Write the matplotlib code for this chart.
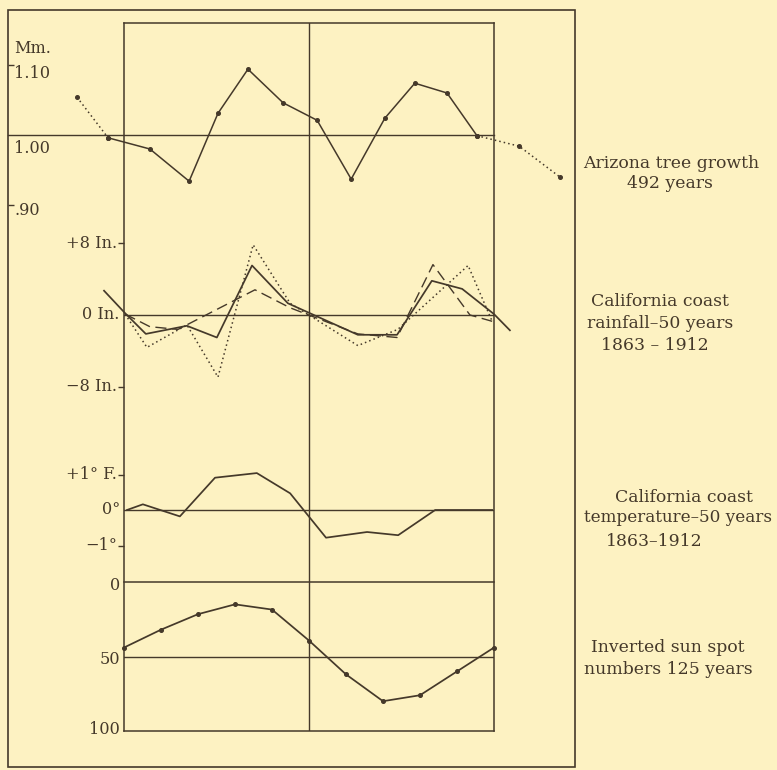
import matplotlib
matplotlib.use("Agg")
import matplotlib.pyplot as plt
import matplotlib.transforms as mtransforms
from matplotlib.patches import Rectangle

# ---------------- data ----------------
# x positions are in "cycle years" across the inner box (0 .. 10)
tree_x = [-1.27, -0.43, 0.70, 1.76, 2.54, 3.35, 4.30, 5.22, 6.14, 7.05, 7.86, 8.73, 9.54, 10.68, 11.78]
tree_mm = [1.054, 0.996, 0.980, 0.934, 1.031, 1.094, 1.046, 1.021, 0.937, 1.024, 1.074, 1.060, 0.999, 0.984, 0.940]

rain_solid_x = [-0.54, 0.03, 0.59, 1.70, 2.51, 3.46, 4.43, 6.32, 7.38, 8.32, 9.14, 10.0, 10.43]
rain_solid_in = [2.7, 0.2, -2.1, -1.2, -2.5, 5.5, 1.3, -2.2, -2.2, 3.8, 2.9, 0.1, -1.7]
rain_dot_x = [0.03, 0.62, 1.70, 2.54, 3.49, 4.49, 6.32, 7.40, 9.30, 9.95]
rain_dot_in = [0.1, -3.6, -1.1, -6.9, 7.8, 1.3, -3.4, -1.6, 5.5, -0.7]
rain_dash_x = [0.03, 0.70, 1.46, 3.54, 4.49, 6.32, 7.38, 8.35, 9.35, 9.95]
rain_dash_in = [0.1, -1.3, -1.6, 2.8, 0.8, -2.1, -2.5, 5.6, 0.0, -0.7]

temp_x = [0.08, 0.51, 1.51, 2.46, 3.59, 4.49, 5.46, 6.57, 7.41, 8.41, 9.95]
temp_f = [0.0, 0.16, -0.18, 0.91, 1.04, 0.47, -0.78, -0.62, -0.71, 0.0, 0.0]

sun_x = [0, 1, 2, 3, 4, 5, 6, 7, 8, 9, 10]
sun_num = [44, 32, 21.6, 15, 18.5, 39.3, 62, 80, 76, 60, 44]

tree_ticks = [1.10, 0.90]
tree_tick_labels = ["Mm.", "1.10", "1.00", ".90"]
tree_label_values = [1.10, 1.10, 1.00, 0.90]
rain_ticks = [8, 0, -8]
rain_tick_labels = ["+8 In.", "0 In.", "\u22128 In."]
temp_ticks = [1, 0, -1]
temp_tick_labels = ["+1\u00b0 F.", "0\u00b0", "\u22121\u00b0"]
sun_ticks = [0, 50, 100]
sun_tick_labels = ["0", "50", "100"]

series_label_lines = [
    ["Arizona tree growth", "492 years"],
    ["California coast", "rainfall\u201350 years", "1863 \u2013 1912"],
    ["California coast", "temperature\u201350 years", "1863\u20131912"],
    ["Inverted sun spot", "numbers 125 years"],
]

# ---------------- style / layout ----------------
W, H = 777, 770
BG = "#FDF2C2"
INK = "#45392a"
FONT = "DejaVu Serif"
FS = 11.6
FS_R = 12.4
plt.rcParams["font.family"] = [FONT, "DejaVu Sans"]

fig = plt.figure(figsize=(W / 100, H / 100), dpi=100, facecolor=BG)


def fx(px):
    return px / W


def fy(py):
    return 1 - py / H


BOX_L, BOX_R, BOX_T, BOX_B = 124, 494, 23, 731

# outer frame
fig.patches.append(Rectangle((fx(8), fy(767)), (575 - 8) / W, (767 - 10) / H,
                             fill=False, ec=INK, lw=1.2, transform=fig.transFigure))

# inner box
axb = fig.add_axes([fx(BOX_L), fy(BOX_B), (BOX_R - BOX_L) / W, (BOX_B - BOX_T) / H])
axb.set_xlim(0, 10)
axb.set_ylim(0, 1)
axb.set_xticks([])
axb.set_yticks([])
axb.patch.set_alpha(0)
for s in axb.spines.values():
    s.set_color(INK)
    s.set_linewidth(1.1)
axb.axvline(5, color=INK, lw=1.0)


def panel(top, bot, vtop, vbot):
    ax = fig.add_axes([fx(BOX_L), fy(bot), (BOX_R - BOX_L) / W, (bot - top) / H])
    ax.set_xlim(0, 10)
    ax.set_ylim(vbot, vtop)
    ax.patch.set_alpha(0)
    for s in ax.spines.values():
        s.set_visible(False)
    ax.set_xticks([])
    ax.tick_params(axis="y", colors=INK, width=1.0, labelleft=False)
    return ax


LW = 1.1

# ---- tree growth panel: 1.00 at y=135 px, 700 px per mm
t0, ts = 135, 700.0
ax1 = panel(BOX_T, 232, 1 + (t0 - BOX_T) / ts, 1 - (232 - t0) / ts)
frame_off = (8 - BOX_L) / (BOX_R - BOX_L)
ax1.axhline(1.0, xmin=frame_off, xmax=1, color=INK, lw=1.0, clip_on=False)
ax1.plot(tree_x[1:13], tree_mm[1:13], color=INK, lw=LW, marker="o", ms=2.6, clip_on=False)
ax1.plot(tree_x[0:2], tree_mm[0:2], color=INK, lw=1.1, ls=(0, (1, 2)), marker="o", ms=2.6, clip_on=False)
ax1.plot(tree_x[12:], tree_mm[12:], color=INK, lw=1.1, ls=(0, (1, 2)), marker="o", ms=2.6, clip_on=False)
ax1.spines["left"].set_position(("axes", frame_off))
ax1.set_yticks(tree_ticks)
ax1.tick_params(axis="y", direction="in", length=4)
trans1 = mtransforms.blended_transform_factory(ax1.transAxes, ax1.transData)
offsets1 = [12, -6, -10, -4]
for lab, val, off in zip(tree_tick_labels, tree_label_values, offsets1):
    ax1.annotate(lab, xy=(frame_off, val), xycoords=trans1, xytext=(4.5, off),
                 textcoords="offset points", ha="left", va="center",
                 fontsize=FS, color=INK, family=FONT, annotation_clip=False)

# ---- rainfall panel: 0 at y=315 px, 9 px per inch
r0, rs = 315, 9.0
ax2 = panel(232, 420, (r0 - 232) / rs, -(420 - r0) / rs)
ax2.axhline(0, color=INK, lw=1.0)
ax2.plot(rain_dot_x, rain_dot_in, color=INK, lw=1.1, ls=(0, (1, 2)), clip_on=False)
ax2.plot(rain_dash_x, rain_dash_in, color=INK, lw=1.0, ls=(0, (8, 4)), clip_on=False)
ax2.plot(rain_solid_x, rain_solid_in, color=INK, lw=1.25, clip_on=False)
ax2.set_yticks([rain_ticks[0], rain_ticks[2]])
ax2.tick_params(axis="y", direction="out", length=4)
trans2 = mtransforms.blended_transform_factory(ax2.transAxes, ax2.transData)
for lab, val in zip(rain_tick_labels, rain_ticks):
    pad = -5 if val != 0 else -3
    ax2.annotate(lab, xy=(0, val), xycoords=trans2, xytext=(pad, 0),
                 textcoords="offset points", ha="right", va="center",
                 fontsize=FS, color=INK, family=FONT, annotation_clip=False)

# ---- temperature panel: 0 at y=510 px, 35.5 px per degree
c0, cs = 510, 35.5
ax3 = panel(440, 572, (c0 - 440) / cs, -(572 - c0) / cs)
ax3.axhline(0, color=INK, lw=1.0)
ax3.plot(temp_x, temp_f, color=INK, lw=1.25, clip_on=False)
ax3.set_yticks([temp_ticks[0], temp_ticks[2]])
ax3.tick_params(axis="y", direction="out", length=4)
trans3 = mtransforms.blended_transform_factory(ax3.transAxes, ax3.transData)
for lab, val in zip(temp_tick_labels, temp_ticks):
    pad = -5 if val != 0 else -3
    ax3.annotate(lab, xy=(0, val), xycoords=trans3, xytext=(pad, 0),
                 textcoords="offset points", ha="right", va="center",
                 fontsize=FS, color=INK, family=FONT, annotation_clip=False)

# ---- sun spot panel (inverted): 0 at y=582 px, 100 at box bottom
ax4 = panel(582, BOX_B, 0, 100)
ax4.set_ylim(100, 0)
ax4.axhline(0, color=INK, lw=1.1, clip_on=False)
ax4.axhline(50, color=INK, lw=1.0)
ax4.plot(sun_x, sun_num, color=INK, lw=1.25, marker="o", ms=2.6, clip_on=False)
ax4.set_yticks([])
trans4 = mtransforms.blended_transform_factory(ax4.transAxes, ax4.transData)
for lab, val in zip(sun_tick_labels, sun_ticks):
    ax4.annotate(lab, xy=(0, val), xycoords=trans4, xytext=(-3, -2.5 if val < 100 else 1),
                 textcoords="offset points", ha="right", va="center",
                 fontsize=FS, color=INK, family=FONT, annotation_clip=False)

# ---- series labels on the right
label_pos = [
    [(671, 164), (670, 184)],
    [(660, 302), (660, 323), (655, 345)],
    [(684, 497), (678, 518), (654, 541)],
    [(668, 648), (668, 669)],
]
for lines, poss in zip(series_label_lines, label_pos):
    for txt, (px, py) in zip(lines, poss):
        fs = FS_R if len(txt) < 20 else FS_R - 0.3
        fig.text(fx(px), fy(py), txt, ha="center", va="center",
                 fontsize=fs, color=INK, family=FONT)

fig.savefig("out.png", dpi=100, facecolor=BG)
